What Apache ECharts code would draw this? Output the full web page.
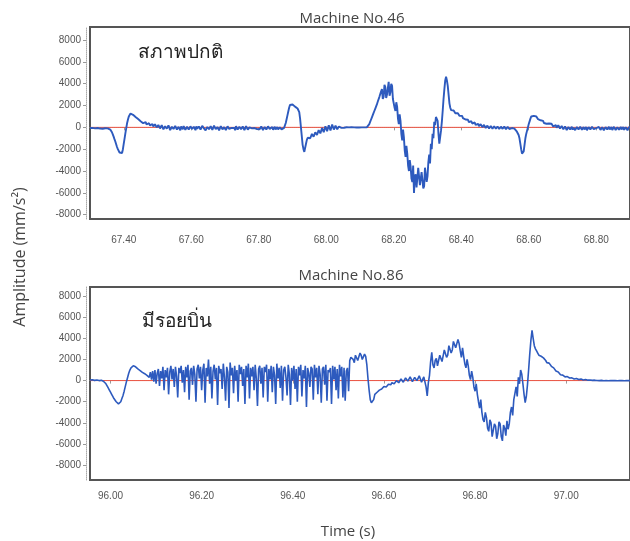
<!DOCTYPE html>
<html>
<head>
<meta charset="utf-8">
<script src="https://cdn.jsdelivr.net/npm/echarts@6/dist/echarts.min.js"></script>
<style>
html,body{margin:0;padding:0;background:#fff;}
#chart{width:630px;height:541px;}
</style>
</head>
<body>
<div id="chart"></div>
<script>
// ---- chart texts ----
const panelTitles = ['Machine No.46', 'Machine No.86'];
const conditionLabels = ['สภาพปกติ', 'มีรอยบิ่น'];
const yAxisTitle = 'Amplitude (mm/s²)';
const xAxisTitle = 'Time (s)';

// ---- tick labels ----
const xTicks46 = [67.4, 67.6, 67.8, 68.0, 68.2, 68.4, 68.6, 68.8];
const xTicks86 = [96.0, 96.2, 96.4, 96.6, 96.8, 97.0];
const yTicks = [-8000, -6000, -4000, -2000, 0, 2000, 4000, 6000, 8000];

// ---- sampled signals (amplitude in mm/s², one sample every 2.5 ms) ----
const sampleStep = 0.0025;
const t46Start = 67.300;
const amp46 = [
  -60,-20, -120,-50, -40,-140, -90,-30, -150,-60, -70,-160, -110,-20, -30,-130, -100,-40, -80,-150,
  -50,-90, -120,-150, -200,-300, -450,-650, -850,-1080, -1300,-1550, -1800,-2000, -2150,-2300, -2380,-2420, -2350,-2000,
  -1500,-1000, -500,-50, 400,720, 1000,1180, 1270,1250, 1200,1150, 1080,1000, 950,900, 850,760, 700,620,
  560,700, 620,380, 420,560, 480,260, 300,440, 380,180, 220,360, 300,80, 120,280, 240,0,
  60,220, 180,-100, -80,200, 120,-180, -150,100, 60,-120, -60,180, 150,-250, -200,60, 0,-150,
  -120,140, 100,-200, -250,50, -30,-280, 80,-100, -180,120, 40,-230, -260,60, 20,-200, -100,90,
  120,-150, -220,60, -40,-260, 90,-120, -300,80, 30,-210, -150,140, 100,-90, -80,-280, -200,40,
  50,-180, -250,100, 60,-220, -100,150, 130,-160, -230,30, -20,-270, -140,110, 80,-190, -280,20,
  20,-240, -120,90, 160,-140, -200,40, -50,-230, 70,-60, -260,100, 40,-190, -130,60, 110,-170,
  -220,80, -10,-250, -160,120, 90,-200, -240,0, 50,-170, -90,70, -190,-60, 60,-240, -150,30,
  0,-180, -230,80, 100,-250, -120,40, -40,-200, -210,90, 60,-140, -170,-30, 30,-220, -110,50,
  -180,-20, 20,-200, -140,10, -60,-190, -160,-40, -50,100, 400,750, 1100,1450, 1800,2050, 2190,2150,
  2100,2000, 1950,1900, 1850,1780, 1730,1650, 1400,800, 0,-800, -1600,-2000, -2250,-2100, -1500,-1150, -950,-850,
  -800,-1000, -900,-600, -650,-850, -750,-450, -500,-700, -620,-250, -300,-550, -450,-50, -100,-450, -380,100,
  50,-350, -300,200, 150,-280, -220,250, 200,-200, -150,150, 100,-180, -120,80, 60,-100, -50,40,
  30,-30, -20,20, 10,-30, -40,0, 0,30, 20,-20, -30,0, 10,-20, -10,10, 20,-10,
  -20,10, 0,-10, 10,0, -10,20, 0,30, 100,300, 500,700, 900,1100, 1300,1500, 1700,1900,
  2100,2350, 2500,2800, 2900,3300, 3500,2600, 2800,3900, 3700,2700, 3000,3600, 4180,2900, 3200,4000, 3800,2600,
  2700,1800, 1500,2300, 1900,800, 300,1200, 600,-600, -1200,-200, -900,-2100, -2700,-1700, -2400,-3500, -4000,-3000,
  -3600,-4700, -5000,-3500, -6010,-4500, -4300,-5500, -5400,-3700, -3800,-5300, -5200,-4100, -4000,-5600, -5400,-3700, -3600,-5000,
  -4500,-3200, -2500,-3300, -1500,-2000, -600,-1000, 500,200, 950,800, 600,-600, -1500,-900, -300,500, 1500,2600,
  3500,4300, 4640,4300, 3800,3000, 2200,1800, 1580,1700, 1450,1550, 1500,1300, 1250,1400, 1300,1150, 1050,1150,
  1000,1050, 850,980, 900,720, 650,800, 700,480, 500,650, 560,350, 380,520, 450,220, 250,400,
  320,100, 150,300, 250,20, 60,230, 180,-60, 0,160, 120,-100, -40,120, 80,-120, -60,100,
  50,-120, -80,80, 20,-150, -100,60, 30,-130, -50,70, 10,-160, -120,40, 0,-150, -80,-20,
  -60,-180, -150,-120, -250,-300, -400,-550, -700,-1000, -1500,-2000, -2400,-2550, -2200,-1600, -1000,-600, -300,0,
  300,550, 800,1000, 1120,1100, 1050,950, 900,1000, 820,750, 700,780, 650,560, 520,600, 400,520,
  450,330, 300,420, 350,180, 200,330, 280,80, 120,260, 200,-20, 40,200, 150,-100, -50,120,
  100,-180, -120,90, 60,-240, -200,40, 30,-190, -80,60, -220,-30, 50,-250, -150,30, -60,-200,
  -250,60, 20,-220, -120,30, -200,-80, 40,-260, -160,20, -60,-200, -230,50, 10,-170, -140,0,
  -80,-260, -220,40, 30,-230, -180,10, -40,-270, -250,20, 0,-190, -130,60, -200,-90, 20,-240,
  -160,50, -60,-250, -240,0, 10,-210, -120,40, -190,-60, 30,-230, -150,20, -80,-260, -210,30,
  0
];
const t86Start = 95.955;
const amp86 = [
  50,100, 80,40, 20,-20, 60,30, 0,-30, 40,0, -80,-180, -300,-500, -700,-900, -1100,-1300,
  -1500,-1700, -1850,-2000, -2100,-2200, -2150,-2000, -1700,-1400, -1000,-550, -100,300, 700,1000, 1200,1350, 1400,1380,
  1300,1200, 1100,1000, 950,880, 780,700, 650,560, 500,420, 300,800, 100,900, -100,1000, -300,700,
  1100,-500, 900,200, 1300,-900, 1000,300, 1200,-1300, 800,1400, 100,1100, -600,1300, 400,-1600, 1200,700,
  1400,-200, 1000,-1100, 1300,300, 1500,-1800, 900,1200, -400,1400, 600,-2000, 1100,1500, 200,1300, -900,1000,
  1600,-2100, 1200,400, 2000,-300, 1300,-1700, 900,1500, 100,1200, -2300,1400, 700,1100, -800,1600, 300,-1900,
  1300,800, -2600,1700, 500,1200, -1200,1400, 0,1000, -2000,1500, 600,1300, -500,1100, -2200,1400, 300,1600,
  -1700,1200, 400,1300, -900,1500, 200,-2400, 1100,1400, -300,1200, -1600,1300, 800,1500, -2000,1100, 100,1400,
  -1100,1300, 500,-2200, 1600,200, 1200,-700, 1400,-1900, 1000,1300, 300,-1400, 1500,600, -2300,1200, 0,1400,
  -800,1100, -2000,1300, 500,1500, -1500,1000, 200,1400, -2500,1200, 700,-600, 1300,1100, -1800,1500, 300,1200,
  -1300,1400, 600,-2100, 1100,1300, -400,1500, -1900,1000, 800,1200, -2200,1400, 100,1300, -900,1100, -1700,1500,
  400,1300, -1600,1200, -1900,900, 1200,-1000, 1900,2200, 2300,2000, 1700,2400, 2500,1900, 1800,2600, 2400,2000,
  2000,2500, 2300,1500, 200,-900, -1800,-2100, -2140,-1800, -1300,-1200, -1100,-1000, -900,-850, -800,-650, -550,-650,
  -600,-450, -350,-500, -400,-200, -150,-300, -250,0, 50,-200, -100,150, 200,-150, 0,250, 300,-50,
  50,350, 250,-100, -50,300, 350,0, 100,450, 400,-150, -100,350, 300,-600, -1440,-200, 500,1800,
  2680,1500, 1200,1900, 2100,1400, 1500,2400, 2500,1800, 1900,2900, 2900,2200, 2400,3300, 3400,2600, 2900,3700,
  3800,3100, 3000,3900, 3500,2800, 2200,3100, 2300,1600, 1200,2000, 1400,500, 100,900, 300,-600, -1000,-300,
  -1300,-2000, -2600,-1800, -3000,-3700, -3900,-3000, -3500,-4500, -4800,-3700, -4000,-5300, -5200,-4100, -4300,-5500, -5000,-3900,
  -4100,-5300, -5700,-4200, -4500,-5200, -3800,-4600, -4100,-3000, -2500,-3300, -1800,-1200, -600,-1500, 300,-300, 1000,600,
  -300,-1300, -2080,-1500, -400,1000, 2500,3800, 4740,4000, 3300,3000, 2800,2600, 2400,2350, 2300,2200, 2150,2000,
  1900,1700, 1600,1650, 1550,1350, 1250,1200, 1050,900, 800,820, 700,560, 450,520, 450,350, 280,380,
  330,250, 200,260, 230,150, 140,200, 170,100, 90,140, 120,60, 50,100, 80,40, 30,60,
  40,20, 30,40, 20,10, 20,0, 10,20, 0,-10, -10,10, 0,-20, 10,0, 0,10,
  -10,0, 0,-10, 0,10, 10,0, 0,-10, -10,0, 0,10, 0
];

// ---- build series data from the arrays ----
function toPairs(start, values) {
  return values.map((v, i) => [+(start + i * sampleStep).toFixed(4), v]);
}
const data46 = toPairs(t46Start, amp46);
const data86 = toPairs(t86Start, amp86);

const chart = echarts.init(document.getElementById('chart'), null, {renderer: 'canvas'});

const labelColor = '#555';
const sigColor = '#2d5abe';
const zeroColor = '#ee5544';

function xAxisCfg(gridIndex, min, max, ticks, margin) {
  return {
    type: 'value', gridIndex, min, max, offset: 6,
    axisLine: {show: true, lineStyle: {color: '#aaa', type: 'dotted', width: 1}},
    axisTick: {show: true, length: 3, customValues: ticks, lineStyle: {color: '#999'}},
    axisLabel: {customValues: ticks, formatter: v => v.toFixed(2), fontSize: 10,
      fontFamily: 'Liberation Sans', color: labelColor, margin},
    splitLine: {show: false}
  };
}
function yAxisCfg(gridIndex, min, max) {
  return {
    type: 'value', gridIndex, min, max, offset: 4,
    axisLine: {show: true, lineStyle: {color: '#aaa', type: 'dotted', width: 1}},
    axisTick: {show: true, length: 3, customValues: yTicks, lineStyle: {color: '#999'}},
    axisLabel: {customValues: yTicks, formatter: v => String(v), fontSize: 10, fontFamily: 'Liberation Sans',
      color: labelColor, margin: 5},
    splitLine: {show: false}
  };
}

const option = {
  animation: false,
  backgroundColor: '#fff',
  grid: [
    {left: 90, top: 27, width: 563, height: 192, show: true, borderColor: '#555', borderWidth: 2, backgroundColor: '#fff'},
    {left: 90, top: 287, width: 548, height: 193, show: true, borderColor: '#555', borderWidth: 2, backgroundColor: '#fff'}
  ],
  xAxis: [
    xAxisCfg(0, 67.30, 68.90, xTicks46, 10),
    xAxisCfg(1, 95.955, 97.14, xTicks86, 5)
  ],
  yAxis: [
    yAxisCfg(0, -8400, 9200),
    yAxisCfg(1, -9400, 8850)
  ],
  series: [
    {type: 'line', xAxisIndex: 0, yAxisIndex: 0, data: [[67.30, 0], [68.90, 0]], symbol: 'none',
      lineStyle: {color: zeroColor, width: 1}, silent: true, z: 1},
    {type: 'line', xAxisIndex: 0, yAxisIndex: 0, data: data46, symbol: 'none', sampling: null,
      lineStyle: {color: sigColor, width: 1.9}, silent: true, z: 2},
    {type: 'line', xAxisIndex: 1, yAxisIndex: 1, data: [[95.955, 0], [97.14, 0]], symbol: 'none',
      lineStyle: {color: zeroColor, width: 1}, silent: true, z: 1},
    {type: 'line', xAxisIndex: 1, yAxisIndex: 1, data: data86, symbol: 'none', sampling: null,
      lineStyle: {color: sigColor, width: 1.6}, silent: true, z: 2}
  ],
  graphic: [
    {type: 'text', x: 352, y: 19, style: {text: panelTitles[0], textAlign: 'center', textVerticalAlign: 'middle',
      font: '15px "Open Sans", sans-serif', fill: '#444'}},
    {type: 'text', x: 351, y: 276, style: {text: panelTitles[1], textAlign: 'center', textVerticalAlign: 'middle',
      font: '15px "Open Sans", sans-serif', fill: '#444'}},
    {type: 'text', x: 138, y: 53, z: 10, style: {text: conditionLabels[0], textAlign: 'left', textVerticalAlign: 'middle',
      font: '19px "Noto Sans", sans-serif', fill: '#222'}},
    {type: 'text', x: 142, y: 322, z: 10, style: {text: conditionLabels[1], textAlign: 'left', textVerticalAlign: 'middle',
      font: '19px "Noto Sans", sans-serif', fill: '#222'}},
    {type: 'text', x: 20, y: 257, rotation: Math.PI / 2, style: {text: yAxisTitle, textAlign: 'center', textVerticalAlign: 'middle',
      font: '16px "Open Sans", sans-serif', fill: '#444'}},
    {type: 'text', x: 348, y: 532, style: {text: xAxisTitle, textAlign: 'center', textVerticalAlign: 'middle',
      font: '15px "Open Sans", sans-serif', fill: '#444'}}
  ]
};
chart.setOption(option);
</script>
</body>
</html>
